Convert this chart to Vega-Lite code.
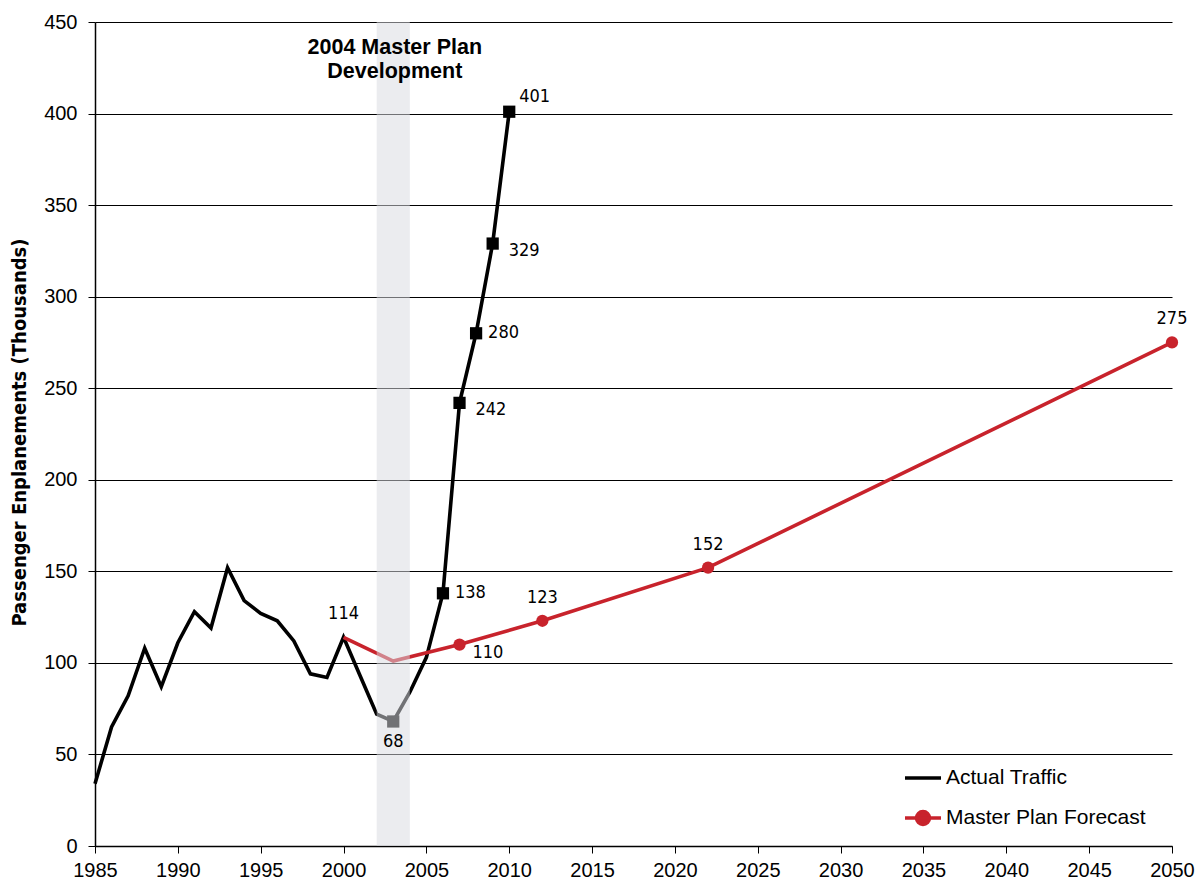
{
  "$schema": "https://vega.github.io/schema/vega-lite/v6.json",
  "width": 1077,
  "height": 824,
  "autosize": {"type": "none"},
  "padding": {"left": 95, "top": 22, "right": 23, "bottom": 36},
  "background": "white",
  "config": {
    "view": {"stroke": null},
    "font": "Liberation Sans",
    "axis": {"labelFont": "Liberation Sans", "labelFontSize": 20, "labelColor": "#000", "tickColor": "#000", "domainColor": "#000", "gridColor": "#000", "gridOpacity": 1, "gridWidth": 1, "tickSize": 7, "domainWidth": 1.5}
  },
  "datasets": {
    "actual": [
      {"year": 1985, "value": 34, "series": "Actual Traffic"},
      {"year": 1986, "value": 65, "series": "Actual Traffic"},
      {"year": 1987, "value": 82, "series": "Actual Traffic"},
      {"year": 1988, "value": 108, "series": "Actual Traffic"},
      {"year": 1989, "value": 87, "series": "Actual Traffic"},
      {"year": 1990, "value": 111, "series": "Actual Traffic"},
      {"year": 1991, "value": 128, "series": "Actual Traffic"},
      {"year": 1992, "value": 119, "series": "Actual Traffic"},
      {"year": 1993, "value": 152, "series": "Actual Traffic"},
      {"year": 1994, "value": 134, "series": "Actual Traffic"},
      {"year": 1995, "value": 127, "series": "Actual Traffic"},
      {"year": 1996, "value": 123, "series": "Actual Traffic"},
      {"year": 1997, "value": 112, "series": "Actual Traffic"},
      {"year": 1998, "value": 94, "series": "Actual Traffic"},
      {"year": 1999, "value": 92, "series": "Actual Traffic"},
      {"year": 2000, "value": 114, "series": "Actual Traffic"},
      {"year": 2001, "value": 93, "series": "Actual Traffic"},
      {"year": 2002, "value": 72, "series": "Actual Traffic"},
      {"year": 2003, "value": 68, "series": "Actual Traffic"},
      {"year": 2004, "value": 84, "series": "Actual Traffic"},
      {"year": 2005, "value": 103, "series": "Actual Traffic"},
      {"year": 2006, "value": 138, "series": "Actual Traffic"},
      {"year": 2007, "value": 242, "series": "Actual Traffic"},
      {"year": 2008, "value": 280, "series": "Actual Traffic"},
      {"year": 2009, "value": 329, "series": "Actual Traffic"},
      {"year": 2010, "value": 401, "series": "Actual Traffic"}
    ],
    "forecast": [
      {"year": 2000, "value": 114, "series": "Master Plan Forecast"},
      {"year": 2003, "value": 101, "series": "Master Plan Forecast"},
      {"year": 2007, "value": 110, "series": "Master Plan Forecast"},
      {"year": 2012, "value": 123, "series": "Master Plan Forecast"},
      {"year": 2022, "value": 152, "series": "Master Plan Forecast"},
      {"year": 2050, "value": 275, "series": "Master Plan Forecast"}
    ],
    "period": [
      {"start": 2002, "end": 2004, "top": 450, "bottom": 0, "label": "2004 Master Plan Development"}
    ]
  },
  "layer": [
    {
      "data": {"name": "period"},
      "mark": {"type": "rule", "strokeWidth": 0},
      "encoding": {
        "y": {"field": "bottom", "type": "quantitative", "scale": {"domain": [0, 450], "nice": false}, "axis": {"values": [0, 50, 100, 150, 200, 250, 300, 350, 400, 450], "grid": true, "title": "Passenger Enplanements (Thousands)", "titleFont": "DejaVu Sans Condensed, Roboto Condensed, Roboto, sans-serif", "titleFontSize": 20, "titleFontWeight": "bold", "titleColor": "#000", "titleX": -76, "titleY": 410, "titleAngle": -90, "titleBaseline": "middle", "titleAlign": "center", "labelPadding": 11}},
        "x": {"field": "start", "type": "quantitative", "scale": {"domain": [1985, 2050], "nice": false, "zero": false}, "axis": {"values": [1985, 1990, 1995, 2000, 2005, 2010, 2015, 2020, 2025, 2030, 2035, 2040, 2045, 2050], "format": "d", "grid": false, "title": null, "labelPadding": 7, "labelFlush": false}}
      }
    },
    {
      "data": {"name": "actual"},
      "mark": {"type": "line", "strokeWidth": 3.6, "strokeJoin": "miter"},
      "encoding": {
        "x": {"field": "year", "type": "quantitative"},
        "y": {"field": "value", "type": "quantitative"},
        "color": {"field": "series", "type": "nominal", "scale": {"domain": ["Actual Traffic", "Master Plan Forecast"], "range": ["#000000", "#c8232c"]},
          "legend": {"orient": "none", "legendX": 808, "legendY": 736, "title": null, "labelFont": "Liberation Sans", "labelFontSize": 21, "labelColor": "#000", "labelLimit": 0, "symbolSize": 1296, "rowPadding": 10, "labelOffset": 3, "padding": 0,
            "encode": {"symbols": {"update": {
              "shape": {"signal": "datum.value === 'Master Plan Forecast' ? 'M-1,0L1,0M0.36,0A0.36,0.36,0,1,1,-0.36,0A0.36,0.36,0,1,1,0.36,0Z' : 'M-1,0L1,0'"},
              "stroke": {"signal": "datum.value === 'Master Plan Forecast' ? '#c8232c' : '#000000'"},
              "fill": {"signal": "datum.value === 'Master Plan Forecast' ? '#c8232c' : 'transparent'"},
              "strokeWidth": {"value": 3.5}
            }}}
          }
        }
      }
    },
    {
      "data": {"name": "forecast"},
      "mark": {"type": "line", "strokeWidth": 3.6, "color": "#c8232c"},
      "encoding": {
        "x": {"field": "year", "type": "quantitative"},
        "y": {"field": "value", "type": "quantitative"}
      }
    },
    {
      "data": {"name": "actual"},
      "transform": [{"filter": "datum.year == 2003 || datum.year >= 2006"}],
      "mark": {"type": "point", "shape": "square", "filled": true, "size": 150, "color": "#000", "opacity": 1},
      "encoding": {
        "x": {"field": "year", "type": "quantitative"},
        "y": {"field": "value", "type": "quantitative"}
      }
    },
    {
      "data": {"name": "forecast"},
      "transform": [{"filter": "datum.year >= 2007"}],
      "mark": {"type": "point", "shape": "circle", "filled": true, "size": 150, "color": "#c8232c", "opacity": 1},
      "encoding": {
        "x": {"field": "year", "type": "quantitative"},
        "y": {"field": "value", "type": "quantitative"}
      }
    },
    {
      "data": {"name": "period"},
      "mark": {"type": "rect", "color": "#d8dbe0", "opacity": 0.52},
      "encoding": {
        "x": {"field": "start", "type": "quantitative"},
        "x2": {"field": "end"},
        "y": {"field": "bottom", "type": "quantitative"},
        "y2": {"field": "top"}
      }
    },
    {
      "data": {"name": "period"},
      "mark": {"type": "text", "font": "Liberation Sans", "fontWeight": "bold", "fontSize": 21.5, "align": "center", "baseline": "top", "lineHeight": 24, "color": "#000", "dx": -15, "dy": 15},
      "encoding": {
        "x": {"field": "end", "type": "quantitative"},
        "y": {"field": "top", "type": "quantitative"},
        "text": {"value": ["2004 Master Plan", "Development"]}
      }
    },
    {
      "data": {"name": "forecast"},
      "transform": [{"filter": "datum.year >= 2012 || datum.year == 2000"}],
      "mark": {"type": "text", "font": "DejaVu Sans Condensed, Roboto Condensed, Roboto, sans-serif", "fontSize": 18, "align": "center", "baseline": "middle", "dy": -23, "color": "#000"},
      "encoding": {
        "x": {"field": "year", "type": "quantitative"},
        "y": {"field": "value", "type": "quantitative"},
        "text": {"field": "value", "type": "quantitative", "format": "d"}
      }
    },
    {
      "data": {"name": "actual"},
      "transform": [{"filter": "datum.year == 2003"}],
      "mark": {"type": "text", "font": "DejaVu Sans Condensed, Roboto Condensed, Roboto, sans-serif", "fontSize": 18, "align": "center", "baseline": "middle", "dy": 21, "color": "#000"},
      "encoding": {
        "x": {"field": "year", "type": "quantitative"},
        "y": {"field": "value", "type": "quantitative"},
        "text": {"field": "value", "type": "quantitative", "format": "d"}
      }
    },
    {
      "data": {"name": "actual"},
      "transform": [{"filter": "datum.year == 2006 || datum.year == 2008"}],
      "mark": {"type": "text", "font": "DejaVu Sans Condensed, Roboto Condensed, Roboto, sans-serif", "fontSize": 18, "align": "left", "baseline": "middle", "dx": 12, "dy": 0, "color": "#000"},
      "encoding": {
        "x": {"field": "year", "type": "quantitative"},
        "y": {"field": "value", "type": "quantitative"},
        "text": {"field": "value", "type": "quantitative", "format": "d"}
      }
    },
    {
      "data": {"name": "actual"},
      "transform": [{"filter": "datum.year == 2007 || datum.year == 2009"}],
      "mark": {"type": "text", "font": "DejaVu Sans Condensed, Roboto Condensed, Roboto, sans-serif", "fontSize": 18, "align": "left", "baseline": "middle", "dx": 16, "dy": 7, "color": "#000"},
      "encoding": {
        "x": {"field": "year", "type": "quantitative"},
        "y": {"field": "value", "type": "quantitative"},
        "text": {"field": "value", "type": "quantitative", "format": "d"}
      }
    },
    {
      "data": {"name": "actual"},
      "transform": [{"filter": "datum.year == 2010"}],
      "mark": {"type": "text", "font": "DejaVu Sans Condensed, Roboto Condensed, Roboto, sans-serif", "fontSize": 18, "align": "left", "baseline": "middle", "dx": 10, "dy": -15, "color": "#000"},
      "encoding": {
        "x": {"field": "year", "type": "quantitative"},
        "y": {"field": "value", "type": "quantitative"},
        "text": {"field": "value", "type": "quantitative", "format": "d"}
      }
    },
    {
      "data": {"name": "forecast"},
      "transform": [{"filter": "datum.year == 2007"}],
      "mark": {"type": "text", "font": "DejaVu Sans Condensed, Roboto Condensed, Roboto, sans-serif", "fontSize": 18, "align": "left", "baseline": "middle", "dx": 13, "dy": 8, "color": "#000"},
      "encoding": {
        "x": {"field": "year", "type": "quantitative"},
        "y": {"field": "value", "type": "quantitative"},
        "text": {"field": "value", "type": "quantitative", "format": "d"}
      }
    }
  ]
}
